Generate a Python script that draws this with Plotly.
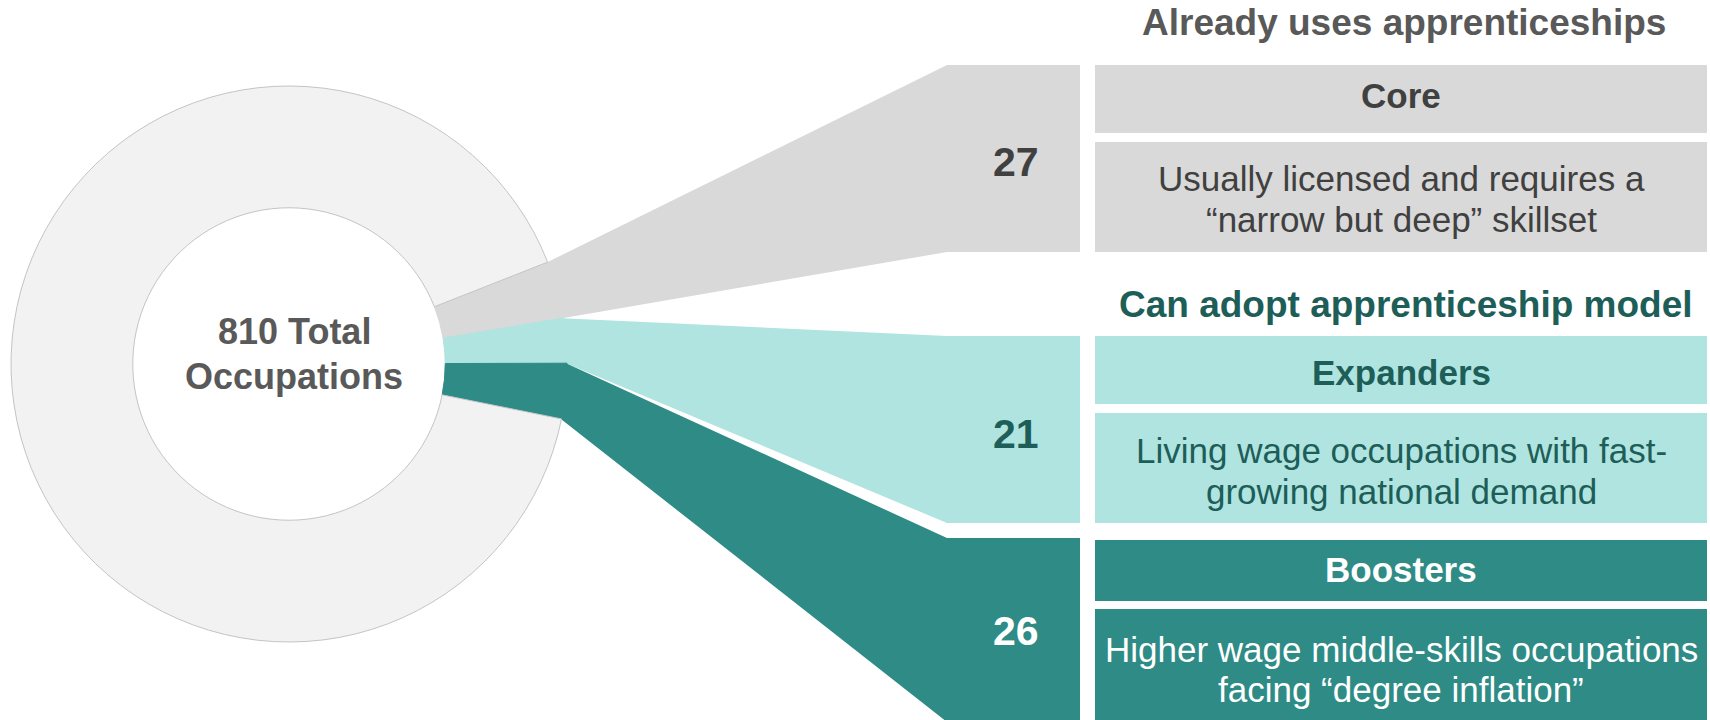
import math
import plotly.graph_objects as go

# ---- data -------------------------------------------------------------
total_occupations = 810
group_names = ["Core", "Expanders", "Boosters"]
group_counts = [27, 21, 26]
section_titles = ["Already uses apprenticeships", "Can adopt apprenticeship model"]
group_descriptions = [
    ["Usually licensed and requires a", "“narrow but deep” skillset"],
    ["Living wage occupations with fast-", "growing national demand"],
    ["Higher wage middle-skills occupations", "facing “degree inflation”"],
]
center_words = ["Total", "Occupations"]

# ---- styling ----------------------------------------------------------
FONT = "Liberation Sans, Arial, Helvetica, sans-serif"
group_fills = ["#d9d9d9", "#b0e4e0", "#2e8b85"]
group_text = ["#404040", "#1e5e58", "#ffffff"]
title_colors = ["#595959", "#1e5e58"]
ring_fill = "#f2f2f2"
ring_edge = "#c4c4c4"

# ---- canvas layout (pixels, y grows downward) ---------------------------
W, H = 1710, 720
CX, CY = 289, 364          # donut centre
R_OUT = 278                # donut outer radius
HOLE = 0.562               # inner radius / outer radius
START_DEG = 21.5           # first highlighted slice starts here (deg above 3 o'clock)

COL_X0, COL_X1 = 947, 1080      # number column
BOX_X0, BOX_X1 = 1095, 1707     # description boxes
col_spans = [(65, 252), (336, 523), (538, 722)]
head_spans = [(65, 133), (336, 404), (540, 601)]
desc_spans = [(142, 252), (413, 523), (609, 722)]
head_text_y = [95, 372, 569]
desc_text_y = [(178, 219), (450, 491), (649, 689)]
number_y = [162, 434, 631]
title_y = [22, 304]
title_x = [1404, 1406]

rest = total_occupations - sum(group_counts)
pie_values = group_counts + [rest]

fig = go.Figure()

# ---- funnels from each slice out to its column ------------------------
def point_at(angle_cw_from_top, radius):
    a = math.radians(angle_cw_from_top)
    return CX + radius * math.sin(a), CY - radius * math.cos(a)

rotation = 90 - START_DEG
deg_per_unit = 360.0 / total_occupations
cum = 0
for i, cnt in enumerate(group_counts):
    a0 = rotation + cum * deg_per_unit
    a1 = rotation + (cum + cnt) * deg_per_unit
    cum += cnt
    top, bot = col_spans[i]
    edge_a = point_at(a0, R_OUT - 1)
    edge_b = point_at(a1, R_OUT - 1)
    inner_a = point_at(a0, R_OUT - 20)
    inner_b = point_at(a1, R_OUT - 20)
    xs = [inner_a[0], edge_a[0], COL_X0, COL_X1, COL_X1, COL_X0, edge_b[0], inner_b[0]]
    ys = [inner_a[1], edge_a[1], top, top, bot, bot, edge_b[1], inner_b[1]]
    fig.add_trace(go.Scatter(
        x=xs, y=ys, mode="lines", fill="toself",
        fillcolor=group_fills[i], line=dict(width=0, color=group_fills[i]),
        hoverinfo="skip", showlegend=False,
    ))

# ---- donut --------------------------------------------------------------
fig.add_trace(go.Pie(
    values=pie_values,
    labels=group_names + ["Other occupations"],
    sort=False,
    direction="clockwise",
    rotation=rotation,
    hole=HOLE,
    textinfo="none",
    hoverinfo="label+value",
    showlegend=False,
    marker=dict(colors=group_fills + [ring_fill],
                line=dict(color=group_fills + [ring_edge], width=1)),
    domain=dict(x=[(CX - R_OUT) / W, (CX + R_OUT) / W],
                y=[1 - (CY + R_OUT) / H, 1 - (CY - R_OUT) / H]),
))

# ---- boxes --------------------------------------------------------------
shapes = []
for i in range(3):
    for (y0, y1) in (head_spans[i], desc_spans[i]):
        shapes.append(dict(type="rect", xref="x", yref="y", layer="below",
                           x0=BOX_X0, x1=BOX_X1, y0=y0, y1=y1,
                           fillcolor=group_fills[i], line=dict(width=0)))

# ---- text ---------------------------------------------------------------
ann = []
def label(x, y, text, size, color, bold=False):
    ann.append(dict(x=x, y=y, xref="x", yref="y", showarrow=False,
                    xanchor="center", yanchor="middle",
                    text=f"<b>{text}</b>" if bold else text,
                    font=dict(family=FONT, size=size, color=color)))

label(294, 331, f"{total_occupations} {center_words[0]}", 36, "#595959", True)
label(294, 376, center_words[1], 36, "#595959", True)

for t, y, x, c in zip(section_titles, title_y, title_x, title_colors):
    label(x, y, t, 37, c, True)

box_cx = (BOX_X0 + BOX_X1) / 2
num_cx = 1016
for i in range(3):
    label(box_cx, head_text_y[i], group_names[i], 35, group_text[i], True)
    for line, y in zip(group_descriptions[i], desc_text_y[i]):
        label(box_cx, y, line, 35, group_text[i])
    label(num_cx, number_y[i], str(group_counts[i]), 41, group_text[i], True)

fig.update_layout(
    width=W, height=H,
    margin=dict(l=0, r=0, t=0, b=0),
    paper_bgcolor="white", plot_bgcolor="white",
    xaxis=dict(range=[0, W], visible=False, fixedrange=True, domain=[0, 1]),
    yaxis=dict(range=[H, 0], visible=False, fixedrange=True, domain=[0, 1]),
    shapes=shapes, annotations=ann,
)

fig.write_html("out.html", config=dict(displayModeBar=False))
